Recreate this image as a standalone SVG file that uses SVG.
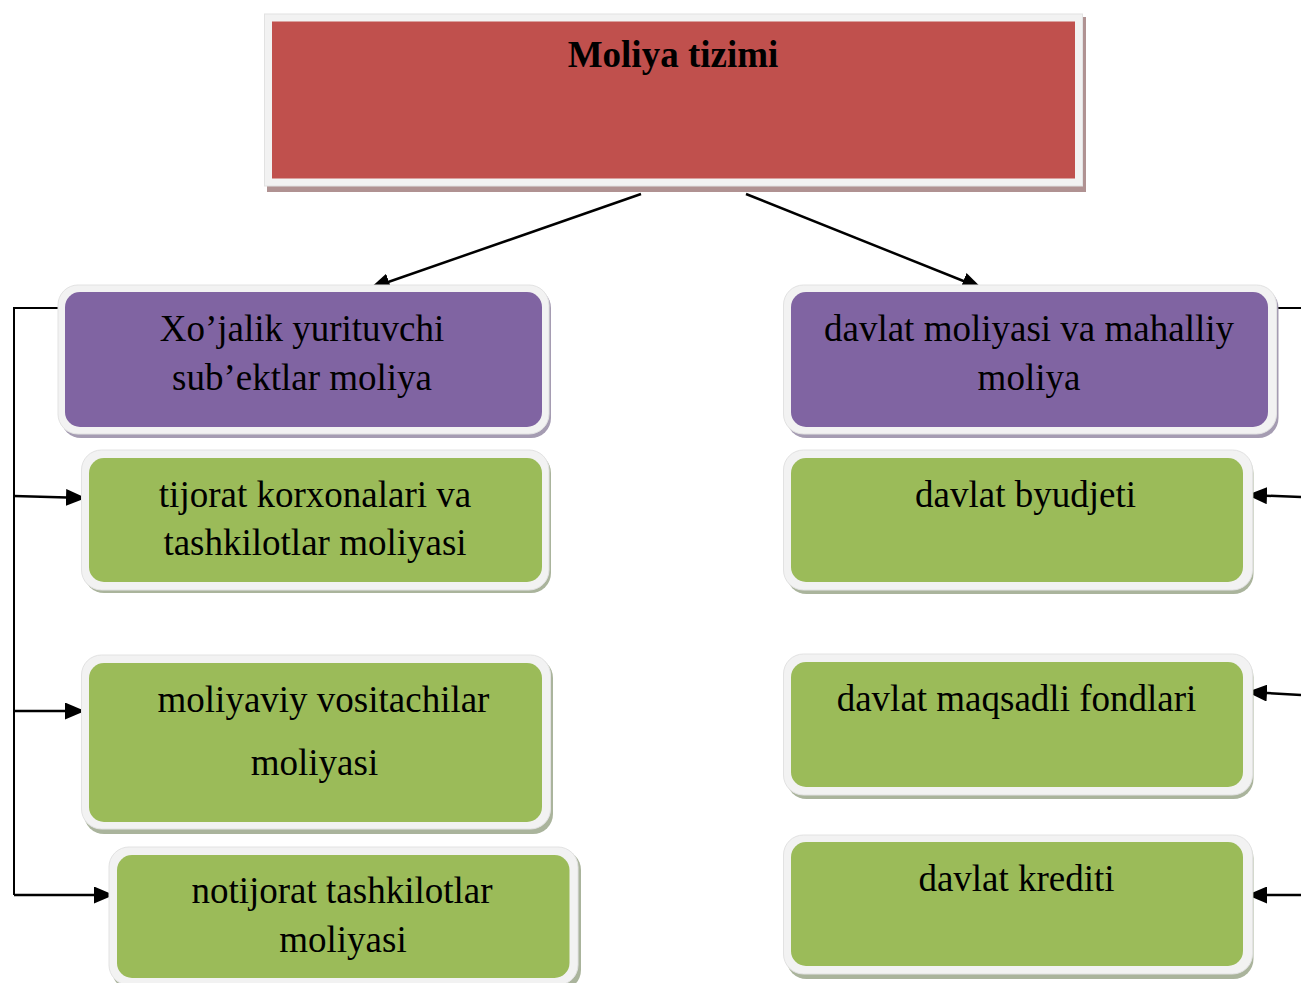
<svg xmlns="http://www.w3.org/2000/svg" width="1301" height="983" viewBox="0 0 1301 983">
<style>
.t{font-family:"Liberation Serif","Times New Roman",serif;font-size:37px;fill:#000;text-anchor:middle}
.b{font-weight:bold}
.frame{fill:#f2f2f2;stroke:#e2e2e2;stroke-width:1}
.pur{fill:#8064A2}
.grn{fill:#9BBB59}
.red{fill:#C0504D}
.shp{fill:#a59cb2}
.shg{fill:#aab49c}
.shr{fill:#b09292}
.ln{fill:none;stroke:#000;stroke-width:2}
.ar{fill:none;stroke:#000;stroke-width:2.5}
</style>
<defs>
<marker id="ah" markerUnits="userSpaceOnUse" viewBox="0 0 20 17" markerWidth="20" markerHeight="17" refX="19" refY="8.5" orient="auto">
<path d="M0,0 L20,8.5 L0,17 z" fill="#000"/>
</marker>
</defs>
<rect width="1301" height="983" fill="#fff"/>

<g id="connectors">
<line class="ar" x1="641" y1="194" x2="371" y2="288" marker-end="url(#ah)"/>
<line class="ar" x1="746" y1="194" x2="981" y2="288" marker-end="url(#ah)"/>
<polyline class="ln" points="58,308 14,308 14,895"/>
<line class="ar" x1="14" y1="496" x2="85" y2="498" marker-end="url(#ah)"/>
<line class="ar" x1="14" y1="711" x2="84" y2="711" marker-end="url(#ah)"/>
<line class="ar" x1="14" y1="895" x2="113" y2="895" marker-end="url(#ah)"/>
<line class="ln" x1="1271" y1="308" x2="1301" y2="308"/>
<line class="ar" x1="1301" y1="497" x2="1248" y2="495" marker-end="url(#ah)"/>
<line class="ar" x1="1301" y1="695" x2="1248" y2="692" marker-end="url(#ah)"/>
<line class="ar" x1="1301" y1="895" x2="1248" y2="895" marker-end="url(#ah)"/>
</g>

<g id="node-top">
<rect class="shr" x="267" y="17" width="819" height="175"/>
<rect class="frame" x="264.5" y="14" width="818" height="172"/>
<rect class="red" x="272" y="21.5" width="803" height="157"/>
<text class="t b" x="673" y="67">Moliya tizimi</text>
</g>

<g id="node-xojalik">
<rect class="shp" x="61" y="288" width="490" height="150" rx="20"/>
<rect class="frame" x="58" y="285" width="491" height="149" rx="20"/>
<rect class="pur" x="65" y="292" width="477" height="135" rx="15"/>
<text class="t" x="302" y="341">Xo’jalik yurituvchi</text>
<text class="t" x="302" y="390">sub’ektlar moliya</text>
</g>

<g id="node-tijorat">
<rect class="shg" x="84" y="453" width="467" height="140" rx="20"/>
<rect class="frame" x="81.5" y="450" width="467.5" height="140" rx="20"/>
<rect class="grn" x="89" y="458" width="453" height="124" rx="15"/>
<text class="t" x="315" y="507">tijorat korxonalari va</text>
<text class="t" x="315" y="555">tashkilotlar moliyasi</text>
</g>

<g id="node-vositachilar">
<rect class="shg" x="84" y="658" width="469" height="176" rx="20"/>
<rect class="frame" x="81.5" y="655" width="469" height="174" rx="20"/>
<rect class="grn" x="89" y="663" width="453" height="159" rx="15"/>
<text class="t" x="323.5" y="712">moliyaviy vositachilar</text>
<text class="t" x="314.5" y="775">moliyasi</text>
</g>

<g id="node-notijorat">
<rect class="shg" x="112" y="850" width="469" height="140" rx="20"/>
<rect class="frame" x="109" y="847" width="469" height="138" rx="20"/>
<rect class="grn" x="117" y="855" width="452.5" height="123" rx="15"/>
<text class="t" x="342" y="903">notijorat tashkilotlar</text>
<text class="t" x="343" y="952">moliyasi</text>
</g>

<g id="node-davlat-moliyasi">
<rect class="shp" x="786.5" y="288" width="492" height="150" rx="20"/>
<rect class="frame" x="783.5" y="285" width="493" height="149" rx="20"/>
<rect class="pur" x="791" y="292" width="477" height="135" rx="15"/>
<text class="t" x="1029" y="341">davlat moliyasi va mahalliy</text>
<text class="t" x="1029" y="390">moliya</text>
</g>

<g id="node-byudjet">
<rect class="shg" x="786.5" y="453" width="467" height="141" rx="20"/>
<rect class="frame" x="783.5" y="450" width="469" height="140" rx="20"/>
<rect class="grn" x="791" y="458" width="452" height="124" rx="15"/>
<text class="t" x="1025.5" y="507">davlat byudjeti</text>
</g>

<g id="node-fondlar">
<rect class="shg" x="786.5" y="657" width="467" height="142" rx="20"/>
<rect class="frame" x="783.5" y="654" width="469" height="141" rx="20"/>
<rect class="grn" x="791" y="662" width="452" height="125" rx="15"/>
<text class="t" x="1016.5" y="711">davlat maqsadli fondlari</text>
</g>

<g id="node-kredit">
<rect class="shg" x="786.5" y="838" width="467" height="141" rx="20"/>
<rect class="frame" x="783.5" y="835" width="469" height="139" rx="20"/>
<rect class="grn" x="791" y="842" width="452" height="124" rx="15"/>
<text class="t" x="1016.5" y="891">davlat krediti</text>
</g>
</svg>
